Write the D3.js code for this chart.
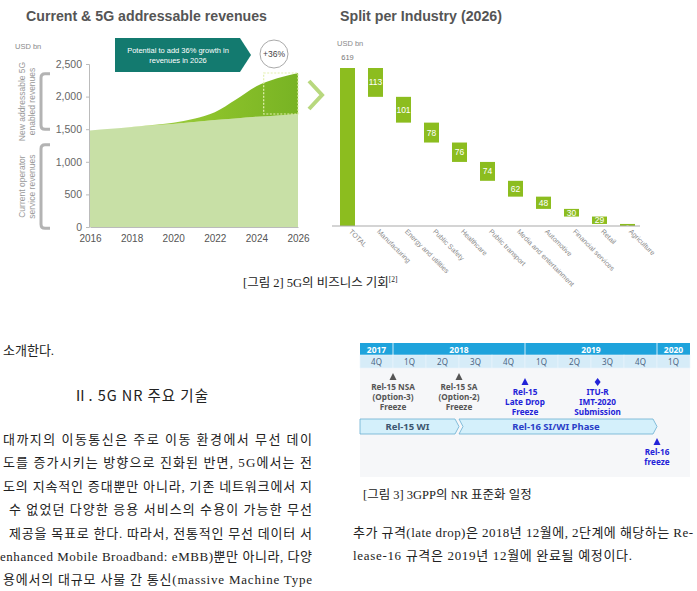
<!DOCTYPE html>
<html>
<head>
<meta charset="utf-8">
<title>5G revenues</title>
<script src="https://d3js.org/d3.v7.min.js"></script>
<style>
  body { margin: 0; background: #fff; }
  svg { display: block; }
  .sans { font-family: "Liberation Sans", Arial, sans-serif; }
  .kr { font-family: "Liberation Serif", "Noto Sans CJK KR", serif; }
  .tl { font-family: "Noto Sans", "Liberation Sans", sans-serif; font-weight: 700; }
</style>
</head>
<body>
<svg id="page" width="697" height="591"></svg>
<script>
// ---- data: left chart (USD bn)
const years = [2016, 2017, 2018, 2019, 2020, 2021, 2022, 2023, 2024, 2025, 2026];
const currentRev = [1480, 1505, 1530, 1555, 1580, 1610, 1640, 1665, 1690, 1712, 1733];
const totalRev = [1480, 1506, 1534, 1565, 1600, 1660, 1760, 1950, 2160, 2280, 2362];
const yTicks = [0, 500, 1000, 1500, 2000, 2500];
const xTicks = [2016, 2018, 2020, 2022, 2024, 2026];

// ---- data: right chart (2026, USD bn)
const industries = ["TOTAL", "Manufacturing", "Energy and utilities", "Public Safety", "Healthcare",
  "Public transport", "Media and entertainment", "Automotive", "Financial services", "Retail", "Agriculture"];
const industryValues = [619, 113, 101, 78, 76, 74, 62, 48, 30, 29, 8];

// ---- data: timeline
const tlYears = ["2017", "2018", "2019", "2020"];
const tlYearQuarters = [1, 4, 4, 1];
const quarters = ["4Q", "1Q", "2Q", "3Q", "4Q", "1Q", "2Q", "3Q", "4Q", "1Q"];
const milestones = [
  {pos: 1, lines: ["Rel-15 NSA", "(Option-3)", "Freeze"], blue: false, mark: "tri", row: 0},
  {pos: 3, lines: ["Rel-15 SA", "(Option-2)", "Freeze"], blue: false, mark: "tri", row: 0},
  {pos: 5, lines: ["Rel-15", "Late Drop", "Freeze"], blue: true, mark: "tri", row: 1},
  {pos: 7.2, lines: ["ITU-R", "IMT-2020", "Submission"], blue: true, mark: "dia", row: 1},
  {pos: 9, lines: ["Rel-16", "freeze"], blue: true, mark: "tri", row: 2}
];
const phases = [
  {name: "Rel-15 WI", from: 0, to: 3, blue: false},
  {name: "Rel-16 SI/WI Phase", from: 3, to: 9, blue: true}
];

// ---- text
const leftLines = [
  "대까지의 이동통신은 주로 이동 환경에서 무선 데이",
  "도를 증가시키는 방향으로 진화된 반면, 5G에서는 전",
  "도의 지속적인 증대뿐만 아니라, 기존 네트워크에서 지",
  "수 없었던 다양한 응용 서비스의 수용이 가능한 무선",
  "제공을 목표로 한다. 따라서, 전통적인 무선 데이터 서",
  "enhanced Mobile Broadband: eMBB)뿐만 아니라, 다양",
  "용에서의 대규모 사물 간 통신(massive Machine Type"
];
const leftStarts = [3, 3, 3, 9, 9, 0, 3];
const rightLines = [
  "추가 규격(late drop)은 2018년 12월에, 2단계에 해당하는 Re-",
  "lease-16 규격은 2019년 12월에 완료될 예정이다."
];

const svg = d3.select("#page");
svg.append("rect").attr("width", 697).attr("height", 591).attr("fill", "#fff");

// ================= left chart =================
const gL = svg.append("g").attr("class", "sans");
gL.append("text").attr("x", 26).attr("y", 21).attr("font-size", 15).attr("font-weight", "bold")
  .attr("fill", "#555").attr("textLength", 241).attr("lengthAdjust", "spacingAndGlyphs")
  .text("Current & 5G addressable revenues");
gL.append("text").attr("x", 15).attr("y", 49).attr("font-size", 7.5).attr("fill", "#8a8a8a").text("USD bn");

const x = d3.scaleLinear().domain([2016, 2026]).range([90, 298]);
const y = d3.scaleLinear().domain([0, 2500]).range([227, 64]);

const defs = svg.append("defs");
const grad = defs.append("linearGradient").attr("id", "newGrad").attr("x1", 0).attr("x2", 1).attr("y1", 0).attr("y2", 0);
grad.append("stop").attr("offset", "0%").attr("stop-color", "#b7db6a");
grad.append("stop").attr("offset", "60%").attr("stop-color", "#8cc22a");
grad.append("stop").attr("offset", "100%").attr("stop-color", "#78b324");

const rows = years.map((yr, i) => ({yr, cur: currentRev[i], tot: totalRev[i]}));
gL.append("path").datum(rows).attr("fill", "#c8e0a6")
  .attr("d", d3.area().x(d => x(d.yr)).y0(y(0)).y1(d => y(d.cur)).curve(d3.curveMonotoneX));
gL.append("path").datum(rows).attr("fill", "url(#newGrad)")
  .attr("d", d3.area().x(d => x(d.yr)).y0(d => y(d.cur)).y1(d => y(d.tot)).curve(d3.curveMonotoneX));

// dashed box around 2026 growth
const last = rows[rows.length - 1];
gL.append("rect").attr("x", x(2024.35)).attr("y", y(last.tot)).attr("width", x(2026) - x(2024.35))
  .attr("height", y(last.cur) - y(last.tot)).attr("fill", "none").attr("stroke", "#e3f0b0")
  .attr("stroke-width", 1.2).attr("stroke-dasharray", "2,1.5");

const yAxis = gL.append("g").attr("transform", `translate(${x(2016) - 1},0)`)
  .call(d3.axisLeft(y).tickValues(yTicks).tickFormat(d3.format(",")).tickSize(3).tickPadding(4));
yAxis.selectAll("text").attr("font-size", 10.5).attr("fill", "#666").attr("font-family", "Liberation Sans");
yAxis.selectAll("line, path").attr("stroke", "#bbb");

const xAxis = gL.append("g").attr("transform", `translate(0,${y(0)})`)
  .call(d3.axisBottom(x).tickValues(xTicks).tickFormat(d3.format("d")).tickSize(0).tickPadding(8));
xAxis.selectAll("text").attr("font-size", 10).attr("fill", "#555").attr("font-family", "Liberation Sans");
xAxis.select(".domain").attr("stroke", "#bbb");

// brackets
function bracket(y0, y1) {
  gL.append("path").attr("fill", "none").attr("stroke", "#b3b3b3").attr("stroke-width", 3)
    .attr("d", `M50,${y0} L45,${y0} Q41,${y0} 41,${y0 + 4} L41,${y1 - 4} Q41,${y1} 45,${y1} L50,${y1}`);
}
bracket(y(2350), y(1500));
bracket(y(1260), y(-20));
function vlabel(cy, l1, l2) {
  const t = gL.append("text").attr("font-size", 8.5).attr("fill", "#999").attr("text-anchor", "middle")
    .attr("transform", `translate(25,${cy}) rotate(-90)`);
  t.append("tspan").attr("x", 0).attr("dy", 0).text(l1);
  t.append("tspan").attr("x", 0).attr("dy", 9.5).text(l2);
}
vlabel((y(2350) + y(1500)) / 2, "New addressable 5G", "enabled revenues");
vlabel((y(1260) + y(-20)) / 2, "Current operator", "service revenues");

// callout
gL.append("path").attr("fill", "#137a6f").attr("d", "M115,38 L240,38 L251,55 L240,72 L115,72 Z");
const ct = gL.append("text").attr("fill", "#fff").attr("font-size", 7.5).attr("text-anchor", "middle");
ct.append("tspan").attr("x", 178).attr("y", 53).text("Potential to add 36% growth in");
ct.append("tspan").attr("x", 178).attr("y", 63).text("revenues in 2026");
gL.append("circle").attr("cx", 274).attr("cy", 54).attr("r", 14).attr("fill", "#fff").attr("stroke", "#aaa");
gL.append("text").attr("x", 274).attr("y", 57).attr("text-anchor", "middle").attr("font-size", 8.5)
  .attr("fill", "#444").text("+36%");
// chevron
gL.append("path").attr("fill", "none").attr("stroke", "#b8d87e").attr("stroke-width", 4)
  .attr("stroke-linejoin", "miter").attr("d", "M309,81 L322,95 L309,109");

// ================= right chart =================
const gR = svg.append("g").attr("class", "sans");
gR.append("text").attr("x", 340).attr("y", 21).attr("font-size", 15).attr("font-weight", "bold")
  .attr("fill", "#555").attr("textLength", 162).attr("lengthAdjust", "spacingAndGlyphs")
  .text("Split per Industry (2026)");
gR.append("text").attr("x", 337).attr("y", 46).attr("font-size", 7.5).attr("fill", "#8a8a8a").text("USD bn");

const xb = d3.scaleBand().domain(industries).range([333.5, 641.5]).paddingInner(0.464).paddingOuter(0.232);
const yb = d3.scaleLinear().domain([0, industryValues[0]]).range([226, 68]);

let remaining = industryValues[0];
const bars = industries.map((name, i) => {
  if (i === 0) return {name, v: industryValues[0], top: industryValues[0], bottom: 0};
  const b = {name, v: industryValues[i], top: remaining, bottom: remaining - industryValues[i]};
  remaining -= industryValues[i];
  return b;
});

gR.selectAll("rect.bar").data(bars).join("rect").attr("class", "bar")
  .attr("x", d => xb(d.name)).attr("width", xb.bandwidth())
  .attr("y", d => yb(d.top)).attr("height", d => Math.max(1.5, yb(d.bottom) - yb(d.top)))
  .attr("fill", "#8cbd1f");

gR.selectAll("text.val").data(bars.slice(1)).join("text").attr("class", "val")
  .attr("x", d => xb(d.name) + xb.bandwidth() / 2)
  .attr("y", d => (yb(d.top) + yb(d.bottom)) / 2 + 3)
  .attr("text-anchor", "middle").attr("font-size", d => d.v < 20 ? 4 : 8.5).attr("fill", "#fff")
  .text(d => d.v);
gR.append("text").attr("x", xb("TOTAL") + xb.bandwidth() / 2).attr("y", 60).attr("text-anchor", "middle")
  .attr("font-size", 7.5).attr("fill", "#777").text(industryValues[0]);

gR.append("line").attr("x1", 332).attr("x2", 640).attr("y1", yb(0)).attr("y2", yb(0))
  .attr("stroke", "#aaa").attr("stroke-width", 1.2);

gR.selectAll("text.cat").data(industries).join("text").attr("class", "cat")
  .attr("transform", d => `translate(${xb(d) + xb.bandwidth() / 2 + 1},${yb(0) + 6}) rotate(45)`)
  .attr("font-size", 7).attr("fill", "#888").text(d => d);

// ================= captions & text =================
const kr = svg.append("g").attr("class", "kr").attr("fill", "#222");
const cap2 = kr.append("text").attr("x", 243).attr("y", 287).attr("font-size", 12.5);
cap2.append("tspan").text("[그림 2] 5G의 비즈니스 기회");
cap2.append("tspan").attr("font-size", 7.5).attr("dy", -5).text("[2]");

kr.append("text").attr("x", 3).attr("y", 355).attr("font-size", 13).text("소개한다.");
kr.append("text").attr("x", 73).attr("y", 401).attr("font-size", 14.5)
  .attr("font-family", "Noto Sans CJK KR").attr("textLength", 135).text("Ⅱ. 5G NR 주요 기술");

kr.selectAll("text.pl").data(leftLines).join("text").attr("class", "pl")
  .attr("x", (d, i) => leftStarts[i]).attr("y", (d, i) => 444 + i * 23.4)
  .attr("font-size", 13).attr("textLength", (d, i) => 312 - leftStarts[i]).attr("lengthAdjust", "spacing")
  .text(d => d);

kr.append("text").attr("x", 363).attr("y", 499).attr("font-size", 12.5).text("[그림 3] 3GPP의 NR 표준화 일정");
kr.selectAll("text.pr").data(rightLines).join("text").attr("class", "pr")
  .attr("x", 353).attr("y", (d, i) => 537 + i * 23.4).attr("font-size", 13)
  .attr("textLength", (d, i) => i === 0 ? 340 : 279).attr("lengthAdjust", "spacing")
  .text(d => d);

// ================= timeline =================
const gT = svg.append("g").attr("class", "tl");
const xq = d3.scaleLinear().domain([0, quarters.length]).range([360, 690]);
gT.append("rect").attr("x", 360).attr("y", 368).attr("width", 330).attr("height", 109).attr("fill", "#f6f7f9");

let acc = 0;
tlYears.forEach((yr, i) => {
  const a = acc, b = acc + tlYearQuarters[i];
  acc = b;
  gT.append("rect").attr("x", xq(a)).attr("y", 343).attr("width", xq(b) - xq(a)).attr("height", 12)
    .attr("fill", "#1ea3dc");
  if (i > 0) gT.append("line").attr("x1", xq(a)).attr("x2", xq(a)).attr("y1", 343).attr("y2", 355)
    .attr("stroke", "#fff").attr("stroke-width", 0.8);
  gT.append("text").attr("x", (xq(a) + xq(b)) / 2).attr("y", 352.5).attr("text-anchor", "middle")
    .attr("font-size", 8.5).attr("fill", "#fff").text(yr);
});
gT.selectAll("rect.q").data(quarters).join("rect").attr("class", "q")
  .attr("x", (d, i) => xq(i)).attr("y", 355).attr("width", xq(1) - xq(0)).attr("height", 13)
  .attr("fill", "#d6ecf8").attr("stroke", "#eaf5fb").attr("stroke-width", 0.6);
gT.selectAll("text.q").data(quarters).join("text").attr("class", "q")
  .attr("x", (d, i) => xq(i + 0.5)).attr("y", 365).attr("text-anchor", "middle")
  .attr("font-size", 8).attr("font-weight", 400).attr("fill", "#4b6584").text(d => d);

// phases
phases.forEach(p => {
  const x0 = xq(p.from), x1 = xq(p.to), t = 4;
  const notch = p.from > 0 ? `L${x0 + t},426.5` : "";
  gT.append("path").attr("fill", "#d4f0fb").attr("stroke", "#6aaed2").attr("stroke-width", 0.8)
    .attr("d", `M${x0},419 L${x1 - t},419 L${x1},426.5 L${x1 - t},434 L${x0},434 ${notch} Z`);
  gT.append("text").attr("x", (x0 + x1) / 2 - 2).attr("y", 430).attr("text-anchor", "middle")
    .attr("font-size", 9.5).attr("fill", p.blue ? "#2a3fc8" : "#3d5670").text(p.name);
});

// milestones
const rowY = [377, 382, 442];
milestones.forEach(m => {
  const cx = xq(m.pos), cy = rowY[m.row];
  const col = m.blue ? "#2323d8" : "#555";
  if (m.mark === "tri") {
    gT.append("path").attr("fill", col).attr("d", `M${cx},${cy - 4} L${cx + 3.5},${cy + 3} L${cx - 3.5},${cy + 3} Z`);
  } else {
    gT.append("path").attr("fill", col).attr("d", `M${cx},${cy - 4} L${cx + 3},${cy} L${cx},${cy + 4} L${cx - 3},${cy} Z`);
  }
  m.lines.forEach((ln, j) => {
    gT.append("text").attr("x", cx).attr("y", cy + 13 + j * 10).attr("text-anchor", "middle")
      .attr("font-size", 8.2).attr("fill", col).text(ln);
  });
});
</script>
</body>
</html>
